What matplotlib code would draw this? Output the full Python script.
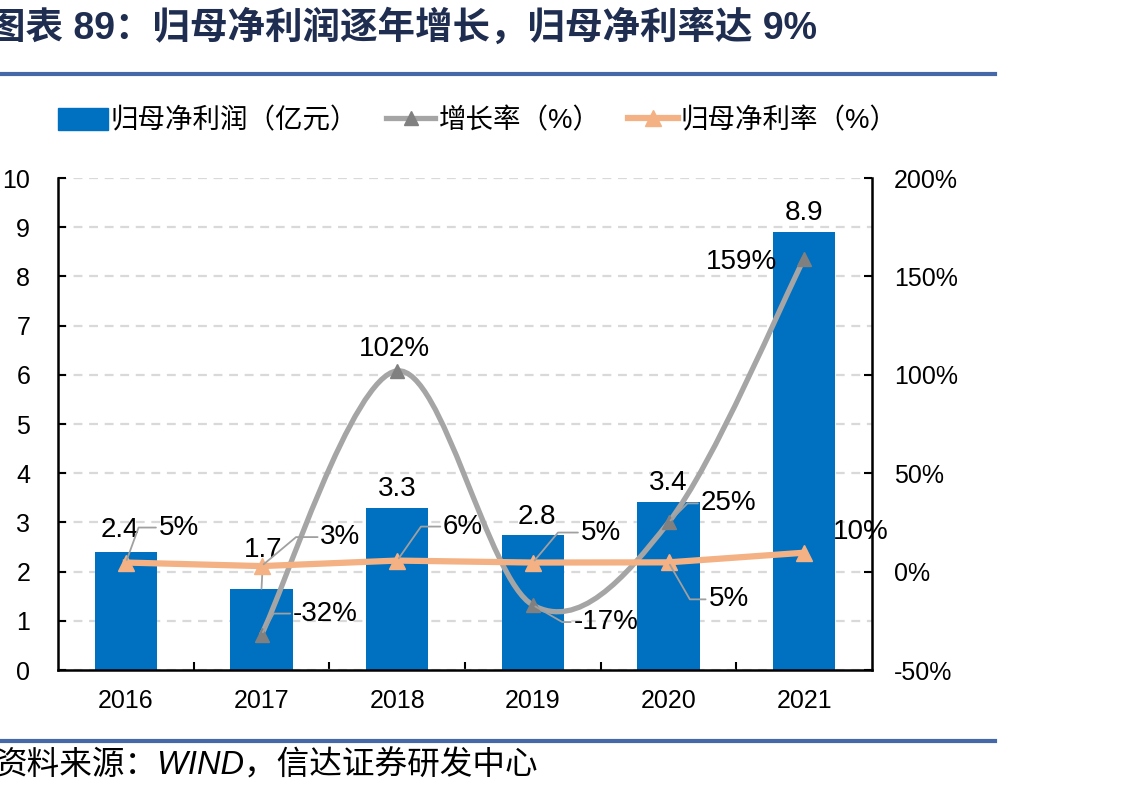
import matplotlib
matplotlib.use('Agg')
import matplotlib.pyplot as plt
import numpy as np
from matplotlib.path import Path
from matplotlib.patches import PathPatch, Patch
from matplotlib.lines import Line2D
from matplotlib.ticker import FuncFormatter, MultipleLocator

plt.rcParams['font.family'] = ['Liberation Sans', 'Noto Sans CJK SC', 'DejaVu Sans']

# data
years = ['2016', '2017', '2018', '2019', '2020', '2021']
profit = [2.4, 1.65, 3.3, 2.75, 3.42, 8.9]          # 归母净利润 (亿元)
profit_labels = ['2.4', '1.7', '3.3', '2.8', '3.4', '8.9']
growth = [-32, 102, -17, 25, 159]                   # 增长率 (%), 2017-2021
margin = [4.6, 2.8, 5.6, 4.6, 4.7, 9.6]             # 归母净利率 (%)

BLUE = '#0070C0'
GRAY = '#A5A5A5'
GRAY_M = '#808080'
ORANGE = '#F4B183'
LEAD = '#A0A0A0'

fig = plt.figure(figsize=(11.35, 7.96), dpi=100)
ax = fig.add_axes([58/1135, 1-670/796, (872-58)/1135, (670-178)/796])
ax2 = ax.twinx()

x = np.arange(len(years))
ax.bar(x, profit, width=0.46, color=BLUE, zorder=2)
ax.set_xlim(-0.5, 5.5)
ax.set_ylim(0, 10)
ax.yaxis.set_major_locator(MultipleLocator(1))
ax.set_xticks(x)
ax.set_xticklabels(years)
ax.set_xticks(np.arange(0.5, 5.0, 1), minor=True)
ax.tick_params(axis='x', which='major', length=0, pad=14, labelsize=18)
ax.tick_params(axis='x', which='minor', direction='in', length=6, width=1.5)
ax.tick_params(axis='y', direction='in', length=6, width=1.5, pad=20, labelsize=18)
ax.grid(axis='y', color='#D9D9D9', linestyle=(0, (4, 3)), linewidth=1.6, zorder=0)
ax.set_axisbelow(True)
for s in ['top']:
    ax.spines[s].set_visible(False)
    ax2.spines[s].set_visible(False)
for s in ['left', 'bottom']:
    ax.spines[s].set_linewidth(1.8)
ax2.spines['right'].set_linewidth(1.8)
ax2.spines['left'].set_visible(False)
ax2.spines['bottom'].set_visible(False)

ax2.set_ylim(-50, 200)
ax2.yaxis.set_major_locator(MultipleLocator(50))
ax2.yaxis.set_major_formatter(FuncFormatter(lambda v, p: '%d%%' % v))
ax2.tick_params(axis='y', direction='in', length=6, width=1.5, pad=16, labelsize=18)

# smoothed growth line (Excel-style bezier through the points)
gx = x[1:]
pts = np.column_stack([gx, growth]).astype(float)
verts = [tuple(pts[0])]
codes = [Path.MOVETO]
n = len(pts)
for i in range(n - 1):
    p_prev = pts[i - 1] if i > 0 else pts[i]
    p_next2 = pts[i + 2] if i + 2 < n else pts[i + 1]
    c1 = pts[i] + (pts[i + 1] - p_prev) / 6
    c2 = pts[i + 1] - (p_next2 - pts[i]) / 6
    verts += [tuple(c1), tuple(c2), tuple(pts[i + 1])]
    codes += [Path.CURVE4] * 3
ax2.add_patch(PathPatch(Path(verts, codes), fill=False, edgecolor=GRAY,
                        linewidth=3.8, capstyle='round', zorder=3))
ax2.plot(gx, growth, linestyle='none', marker='^', markersize=10,
         color=GRAY_M, zorder=4)

ax2.plot(x, margin, color=ORANGE, linewidth=4.5, marker='^', markersize=11,
         zorder=5)

txt = dict(fontsize=20, ha='center', va='center', zorder=10,
           textcoords='offset pixels')


def lead(angle):
    return dict(arrowstyle='-', color=LEAD, lw=1.3, shrinkA=0, shrinkB=2,
                relpos=(0, 0.5),
                connectionstyle='angle,angleA=0,angleB=%d,rad=0' % angle)


# bar value labels
bar_off = [(-6, 22), (2, 39), (0, 19), (4, 18), (0, 19), (0, 19)]
for i, (lab, off) in enumerate(zip(profit_labels, bar_off)):
    kw = {}
    if i == 1:
        kw['arrowprops'] = dict(arrowstyle='-', color=LEAD, lw=1.3,
                                shrinkA=0, shrinkB=0)
    ax.annotate(lab, xy=(i, profit[i]), xytext=off, annotation_clip=False,
                **txt, **kw)

# margin labels
mar_off = [(53, 35), (79, 29), (66, 34), (68, 30), (60, -37), (57, 21)]
mar_ang = [70, 40, 55, 50, -60, None]
for i, (v, off, ang) in enumerate(zip(margin, mar_off, mar_ang)):
    kw = {}
    if ang is not None:
        kw['arrowprops'] = lead(ang)
    ax2.annotate('%d%%' % round(v), xy=(i, v), xytext=off,
                 annotation_clip=False, **txt, **kw)

# growth labels
gro_off = [(64, 21), (-3, 22), (73, -17), (60, 19), (-63, -3)]
gro_ang = [60, None, -30, 45, None]
for j, (v, off, ang) in enumerate(zip(growth, gro_off, gro_ang)):
    kw = {}
    if ang is not None:
        kw['arrowprops'] = lead(ang)
    ax2.annotate('%d%%' % v, xy=(gx[j], v), xytext=off,
                 annotation_clip=False, **txt, **kw)

# legend
handles = [
    Patch(facecolor=BLUE, edgecolor=BLUE),
    Line2D([], [], color=GRAY, lw=3.8, marker='^', markersize=10,
           markerfacecolor=GRAY_M, markeredgecolor=GRAY_M),
    Line2D([], [], color=ORANGE, lw=4.5, marker='^', markersize=11),
]
labels = ['归母净利润（亿元）', '增长率（%）', '归母净利率（%）']
fig.legend(handles, labels, loc='center', bbox_to_anchor=(478/1135, 1-121/796),
           ncol=3, frameon=False, fontsize=19.8, handlelength=1.8,
           handleheight=0.9, handletextpad=0.12, columnspacing=1.0)

# title, rules and source
fig.text(-12/1135, 1-28/796, '图表 89：归母净利润逐年增长，归母净利率达 9%',
         fontsize=27, fontweight='bold', color='#1F2D50', ha='left', va='center')
fig.add_artist(Line2D([0, 995/1135], [1-74/796, 1-74/796], color='#4468A8',
                      lw=3, transform=fig.transFigure))
fig.add_artist(Line2D([0, 995/1135], [1-741/796, 1-741/796], color='#4468A8',
                      lw=3, transform=fig.transFigure))
fig.text(-6/1135, 1-766/796, '资料来源：WIND，信达证券研发中心', fontsize=23.5,
         style='italic', ha='left', va='center')

fig.savefig('out.png', dpi=100)
